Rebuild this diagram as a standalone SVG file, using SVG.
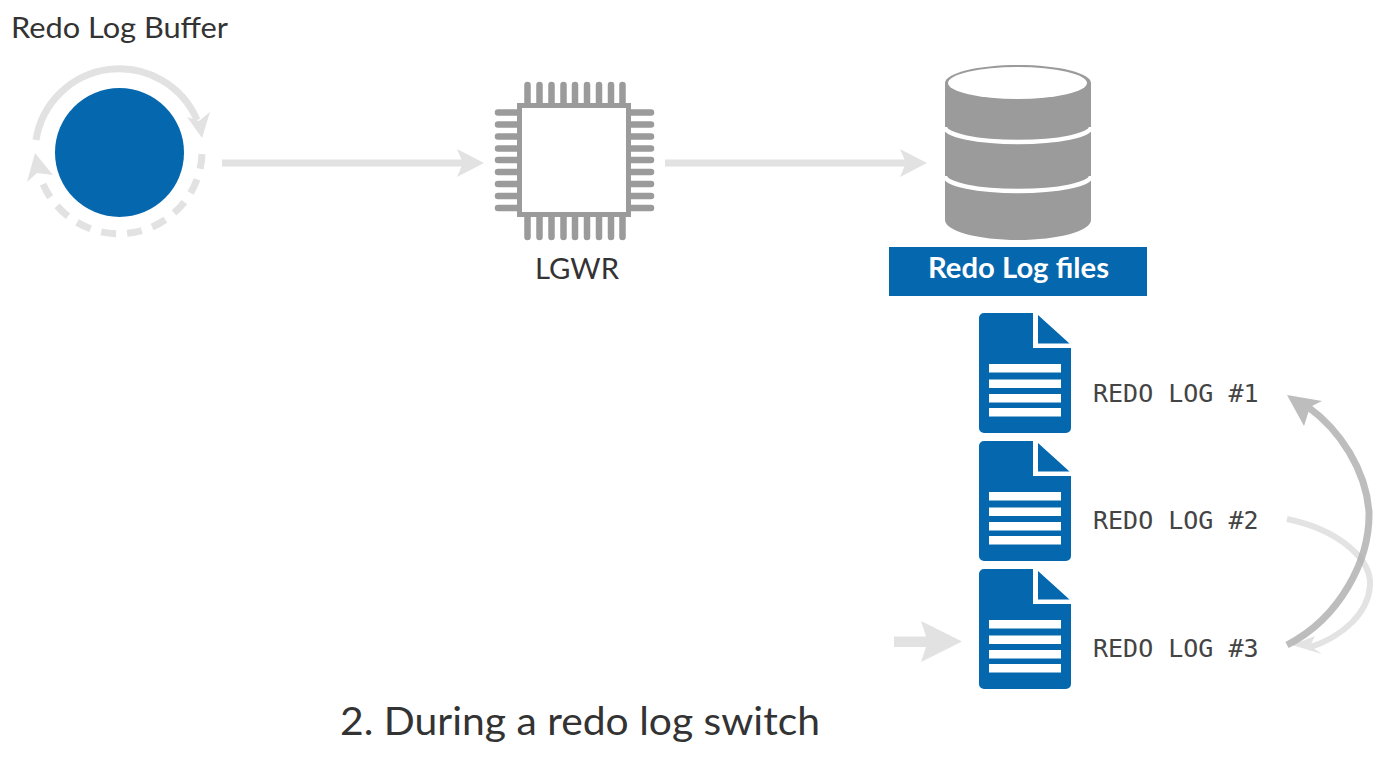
<svg xmlns="http://www.w3.org/2000/svg" width="1389" height="761" viewBox="0 0 1389 761">
<style>
.lb{font-family:"Lato","Liberation Sans",sans-serif;fill:#333}
.mono{font-family:"DejaVu Sans Mono","Liberation Mono",monospace;font-size:25px;fill:#444}
.conn{fill:none;stroke:#e2e2e2;stroke-width:7}
.head{fill:#e2e2e2}
.pin{stroke:#9b9b9b;stroke-width:6.5;stroke-linecap:round;fill:none}
.blue{fill:#0568ae}
</style>
<defs>
<g id="doc">
<path class="blue" d="M984 313H1033V348H1071V428a5 5 0 0 1-5 5H984a5 5 0 0 1-5-5V318a5 5 0 0 1 5-5Z"/>
<path class="blue" d="M1038 315V343.500H1069.500Z"/>
<g fill="#fff">
<rect x="989" y="364" width="72" height="8.500"/>
<rect x="989" y="379.500" width="72" height="8.500"/>
<rect x="989" y="394" width="72" height="8.500"/>
<rect x="989" y="408" width="72" height="8.500"/>
</g>
</g>
</defs>
<rect width="1389" height="761" fill="#fff"/>
<g id="connectors">
<path class="conn" d="M36 140A84.400 84.400 0 0 1 197 120"/>
<path class="head" d="M202 138L187 117L199 121L210 112Z"/>
<path class="conn" stroke-dasharray="15 11" d="M202 154A83 83 0 0 1 41 179"/>
<path class="head" d="M35 153L27 182L37 173L53 175Z"/>
<path class="conn" d="M222 163H470"/>
<path class="head" d="M484 163L457 149L463 163L457 177Z"/>
<path class="conn" d="M665 163H913"/>
<path class="head" d="M927 163L900 149L906 163L900 177Z"/>
<path fill="#e2e2e2" d="M894 636.500H926L921 621L962 641.500L921 662L926 647H894Z"/>
<g opacity="0.7">
<path d="M1287 519C1340 530 1372 560 1370 586C1368 612 1345 636 1308 648" fill="none" stroke="#d8d8d8" stroke-width="6"/>
<path fill="#d8d8d8" d="M1292 645L1315 636L1310 646L1322 654Z"/>
</g>
<g opacity="0.8">
<path d="M1287 645C1340 618 1370 560 1369 512C1366 470 1340 430 1308 407" fill="none" stroke="#adadad" stroke-width="7"/>
<path fill="#adadad" d="M1287 395L1322 401L1310 407L1304 426Z"/>
</g>
</g>
<g id="buffer">
<circle cx="119.500" cy="152.500" r="64.500" class="blue"/>
<text class="lb" x="11" y="38" font-size="29" textLength="217" lengthAdjust="spacingAndGlyphs">Redo Log Buffer</text>
</g>
<g id="lgwr">
<path class="pin" d="M527.500 85V103M539.500 85V103M551.500 85V103M563.500 85V103M575 85V103M587 85V103M599 85V103M611 85V103M622.500 85V103"/>
<path class="pin" d="M527.500 217V237M539.500 217V237M551.500 217V237M563.500 217V237M575 217V237M587 217V237M599 217V237M611 217V237M622.500 217V237"/>
<path class="pin" d="M498 112.500H517M498 124.500H517M498 136.500H517M498 148.500H517M498 160H517M498 172H517M498 184H517M498 196H517M498 208H517"/>
<path class="pin" d="M631 112.500H651M631 124.500H651M631 136.500H651M631 148.500H651M631 160H651M631 172H651M631 184H651M631 196H651M631 208H651"/>
<rect x="519.500" y="105.500" width="109" height="109" fill="#fff" stroke="#9b9b9b" stroke-width="5"/>
<text class="lb" x="535" y="279" font-size="29" textLength="84" lengthAdjust="spacingAndGlyphs">LGWR</text>
</g>
<g id="redo-log-files">
<path fill="#9b9b9b" d="M945 83C945 73 978 65 1018 65C1058 65 1091 73 1091 83V220C1091 231 1058 240 1018 240C978 240 945 231 945 220Z"/>
<ellipse cx="1017.500" cy="83" rx="69.500" ry="16" fill="#fff"/>
<path fill="none" stroke="#fff" stroke-width="4.500" d="M945 127A73 15 0 0 0 1091 127"/>
<path fill="none" stroke="#fff" stroke-width="4.500" d="M945 176A73 15 0 0 0 1091 176"/>
<rect x="889" y="247" width="258" height="49" class="blue"/>
<text x="928" y="278" font-size="28" font-weight="700" fill="#fff" textLength="181" lengthAdjust="spacingAndGlyphs" style="font-family:'Lato','Liberation Sans',sans-serif">Redo Log files</text>
</g>
<g id="redo-log-1"><use href="#doc"/><text class="mono" x="1093" y="402">REDO LOG #1</text></g>
<g id="redo-log-2"><use href="#doc" y="128"/><text class="mono" x="1093" y="529">REDO LOG #2</text></g>
<g id="redo-log-3"><use href="#doc" y="256"/><text class="mono" x="1093" y="657">REDO LOG #3</text></g>
<text id="caption" class="lb" x="340" y="735" font-size="39" textLength="480" lengthAdjust="spacingAndGlyphs">2. During a redo log switch</text>
</svg>
